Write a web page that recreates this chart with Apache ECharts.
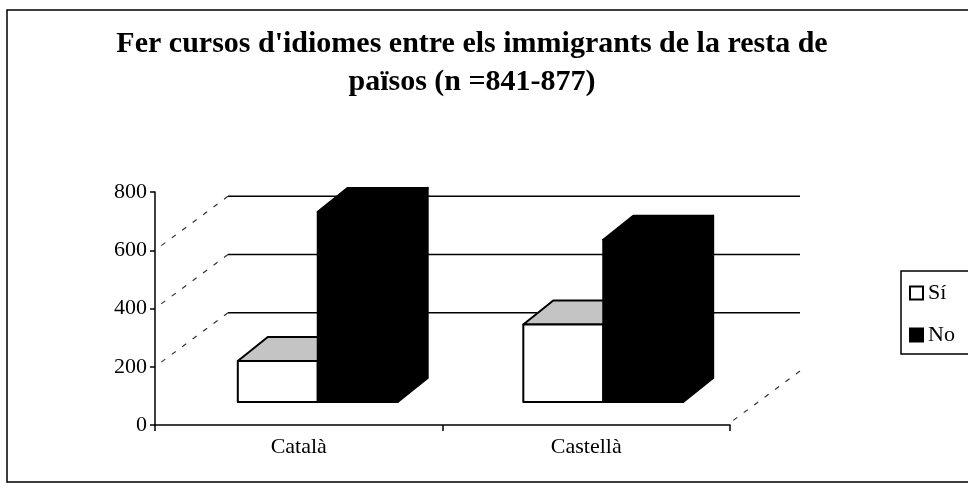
<!DOCTYPE html>
<html>
<head>
<meta charset="utf-8">
<title>Fer cursos d'idiomes</title>
<script src="https://cdn.jsdelivr.net/npm/echarts@6/dist/echarts.min.js"></script>
<style>
  html, body { margin: 0; padding: 0; background: #fff; }
  #chart { width: 968px; height: 491px; }
</style>
</head>
<body>
<div id="chart"></div>
<script>
// dades llegides del gràfic
const categories = ['Català', 'Castellà'];
const siValues = [140, 265];
const noValues = [650, 555];
const wallLevels = [200, 400, 600];
const seriesNames = ['Sí', 'No'];

const FONT = "'Liberation Serif', 'Times New Roman', serif";
const BAR_DEPTH = [30, -24];   // profunditat de les barres
const WALL_DEPTH = [73, -54];  // front -> paret del fons
const BAR_RATIO = 0.28;

const myChart = echarts.init(document.getElementById('chart'));

// barra "3D": cara frontal, cara superior i lateral
function bar3d(side, topFill) {
  return function (params, api) {
    const cat = api.value(0);
    const top = api.coord([cat, api.value(1)]);
    const base = api.coord([cat, 0]);
    const w = api.size([1, 0])[0] * BAR_RATIO;
    const x0 = side === 0 ? top[0] - w : top[0];
    const x1 = x0 + w;
    const dx = BAR_DEPTH[0], dy = BAR_DEPTH[1];
    const color = api.visual('color');
    const line = { stroke: '#000', lineWidth: 2, lineJoin: 'round' };
    return {
      type: 'group',
      children: [
        {
          type: 'polygon',
          shape: { points: [[x1, top[1]], [x1 + dx, top[1] + dy], [x1 + dx, base[1] + dy], [x1, base[1]]] },
          style: Object.assign({ fill: color }, line)
        },
        {
          type: 'polygon',
          shape: { points: [[x0, top[1]], [x0 + dx, top[1] + dy], [x1 + dx, top[1] + dy], [x1, top[1]]] },
          style: Object.assign({ fill: topFill }, line)
        },
        {
          type: 'rect',
          shape: { x: x0, y: top[1], width: w, height: base[1] - top[1] },
          style: Object.assign({ fill: color }, line)
        }
      ]
    };
  };
}

// línies de la paret del fons + diagonals de la paret lateral
function wallItem(params, api) {
  const cs = params.coordSys;
  const y = api.coord([0, api.value(1)])[1];
  return {
    type: 'group',
    children: [
      {
        type: 'line',
        shape: { x1: cs.x, y1: y, x2: cs.x + cs.width, y2: y },
        style: { stroke: '#000', lineWidth: 1.5 }
      },
      {
        type: 'line',
        shape: { x1: cs.x, y1: y, x2: cs.x - WALL_DEPTH[0], y2: y - WALL_DEPTH[1] },
        style: { stroke: '#333', lineWidth: 1.2, lineDash: [5, 8] }
      }
    ]
  };
}

function floorItem(params, api) {
  const cs = params.coordSys;
  const y = api.coord([0, 0])[1];
  const x = cs.x + cs.width;
  return {
    type: 'line',
    shape: { x1: x, y1: y, x2: x - WALL_DEPTH[0], y2: y - WALL_DEPTH[1] },
    style: { stroke: '#333', lineWidth: 1.2, lineDash: [5, 8] }
  };
}

const hiddenCat = { type: 'category', data: categories, show: false };
const hiddenVal = { type: 'value', min: 0, max: 800, interval: 200, show: false };

const option = {
  animation: false,
  backgroundColor: '#fff',
  title: {
    text: "Fer cursos d'idiomes entre els immigrants de la resta de\npaïsos (n =841-877)",
    left: 467,
    top: 20,
    textAlign: 'center',
    textStyle: {
      fontFamily: FONT,
      fontSize: 30,
      fontWeight: 'bold',
      lineHeight: 38,
      color: '#000'
    }
  },
  legend: {
    data: seriesNames,
    orient: 'vertical',
    left: 901,
    top: 271,
    icon: 'rect',
    itemWidth: 13,
    itemHeight: 13,
    itemGap: 20,
    padding: [11, 60, 8, 8],
    borderColor: '#000',
    borderWidth: 1.5,
    textStyle: { fontFamily: FONT, fontSize: 22, color: '#000' }
  },
  graphic: [
    {
      type: 'rect',
      shape: { x: 7, y: 10, width: 1000, height: 472 },
      style: { fill: 'none', stroke: '#000', lineWidth: 1.5 },
      z: -1
    }
  ],
  grid: [
    { left: 155, right: 238, top: 192, bottom: 66 },   // front
    { left: 228, right: 168, top: 138, bottom: 120 },  // paret
    { left: 175, right: 222, top: 168, bottom: 89 }    // barres
  ],
  xAxis: [
    {
      type: 'category',
      data: categories,
      gridIndex: 0,
      axisLine: { lineStyle: { color: '#000', width: 1.5 } },
      axisTick: { show: true, length: 6, lineStyle: { color: '#000', width: 1.5 } },
      axisLabel: { fontFamily: FONT, fontSize: 22, color: '#000', margin: 11 }
    },
    Object.assign({ gridIndex: 1 }, hiddenCat),
    Object.assign({ gridIndex: 2 }, hiddenCat)
  ],
  yAxis: [
    {
      type: 'value',
      gridIndex: 0,
      min: 0,
      max: 800,
      interval: 200,
      axisLine: { show: true, lineStyle: { color: '#000', width: 1.5 } },
      axisTick: { show: true, length: 5, lineStyle: { color: '#000', width: 1.5 } },
      axisLabel: { fontFamily: FONT, fontSize: 22, color: '#000', margin: 8 },
      splitLine: { show: false }
    },
    Object.assign({ gridIndex: 1 }, hiddenVal),
    Object.assign({ gridIndex: 2 }, hiddenVal)
  ],
  series: [
    {
      type: 'custom',
      name: 'wall',
      xAxisIndex: 1,
      yAxisIndex: 1,
      renderItem: wallItem,
      data: wallLevels.map(v => [0, v]),
      silent: true,
      clip: false,
      z: 1
    },
    {
      type: 'custom',
      name: 'floor',
      xAxisIndex: 1,
      yAxisIndex: 1,
      renderItem: floorItem,
      data: [[0, 0]],
      silent: true,
      clip: false,
      z: 1
    },
    {
      type: 'custom',
      name: seriesNames[0],
      xAxisIndex: 2,
      yAxisIndex: 2,
      renderItem: bar3d(0, '#c4c4c4'),
      itemStyle: { color: '#fff', borderColor: '#000', borderWidth: 1.5 },
      data: siValues.map((v, i) => [i, v]),
      clip: false,
      z: 2
    },
    {
      type: 'custom',
      name: seriesNames[1],
      xAxisIndex: 2,
      yAxisIndex: 2,
      renderItem: bar3d(1, '#000'),
      itemStyle: { color: '#000', borderColor: '#000', borderWidth: 1.5 },
      data: noValues.map((v, i) => [i, v]),
      clip: false,
      z: 3
    }
  ]
};

myChart.setOption(option);
</script>
</body>
</html>
